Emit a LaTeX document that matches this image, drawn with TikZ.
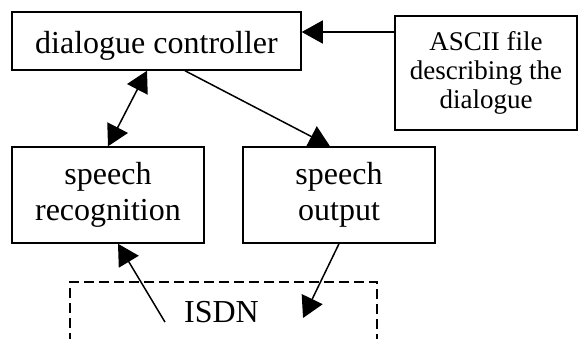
\documentclass[tikz,border=0pt]{standalone}
\usepackage{fontspec}
\setmainfont{Liberation Serif}
\usetikzlibrary{arrows.meta}

\begin{document}
\begin{tikzpicture}[x=1pt,y=-1pt,
  box/.style={draw,rectangle,line width=1.5pt,inner sep=0pt,align=center,
              font=\fontsize{32}{36}\selectfont},
  arr/.style={line width=1.5pt,-{Triangle[length=21pt,width=23pt]}},
  twoway/.style={line width=1.5pt,{Triangle[length=21pt,width=23pt]}-{Triangle[length=21pt,width=23pt]}}]
\useasboundingbox (0,0) rectangle (578,338);
\clip (0,0) rectangle (578,338);

\node[box,minimum width=289pt,minimum height=58pt,text height=24pt,text depth=0pt]
  (ctrl) at (156.5,41) {dialogue controller};
\node[box,minimum width=182pt,minimum height=114pt,font=\fontsize{27}{29}\selectfont]
  (ascii) at (486,73) {ASCII file\\describing the\\dialogue};
\node[box,minimum width=192pt,minimum height=96pt] (rec) at (108,195) {speech\\recognition};
\node[box,minimum width=192pt,minimum height=96pt] (out) at (339,195) {speech\\output};

% network below, only its top shows
\node[draw,line width=1.3pt,dash pattern=on 10pt off 5pt,minimum width=307pt,minimum height=100pt]
  (isdn) at (223.5,332) {};
\node[anchor=base,inner sep=0pt,font=\fontsize{32}{36}\selectfont] (isdnlabel) at (221.5,322) {ISDN};
\coordinate (isdnout) at ([xshift=-19pt]isdnlabel.base west);
\coordinate (isdnin) at ([xshift=44pt,yshift=4pt]isdnlabel.base east);

\coordinate (ctrlin) at ([yshift=9pt]ctrl.east);
\draw[arr] (ascii.west |- ctrlin) -- (ctrlin);
\draw[twoway] (rec.north) -- ([xshift=-9.5pt]ctrl.south);
\draw[arr] ([xshift=28.5pt]ctrl.south) -- ([xshift=-9pt]out.north);
\draw[arr] (isdnout) -- ([xshift=10pt]rec.south);
\draw[arr] (out.south) -- (isdnin);
\end{tikzpicture}
\end{document}
